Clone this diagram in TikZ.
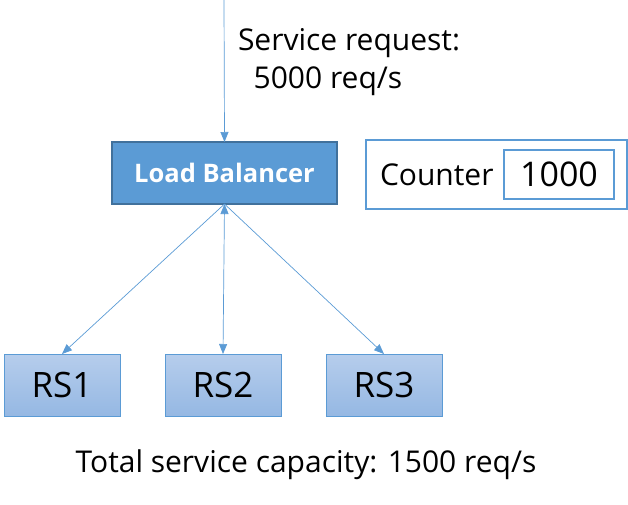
\documentclass[tikz,border=0pt]{standalone}
\usepackage{fontspec}
\setmainfont{Open Sans}
\usetikzlibrary{positioning, arrows.meta}

\definecolor{lbblue}{HTML}{5B9BD5}
\definecolor{lbedge}{HTML}{41719C}
\definecolor{rstop}{HTML}{B6CDEC}
\definecolor{rsbot}{HTML}{95B8E3}

\tikzset{
  balancer/.style = {draw = lbedge, line width = 1.2pt, fill = lbblue,
    minimum width = 225pt, minimum height = 62pt, text = white,
    font = \bfseries\fontsize{25.5}{30}\selectfont},
  server/.style = {draw = lbblue, line width = 0.8pt, top color = rstop,
    bottom color = rsbot, minimum width = 116pt, minimum height = 62pt,
    font = \fontsize{35}{40}\selectfont},
  frame/.style = {draw = lbblue, line width = 1.6pt},
  flow/.style = {color = lbblue, draw, line width = 0.7pt,
    -{Triangle[length = 10pt, width = 8pt]}},
  label/.style = {font = \fontsize{30}{38}\selectfont}
}

\begin{document}
\begin{tikzpicture}[x = 1pt, y = -1pt, inner sep = 0pt, outer sep = 0pt]
  \useasboundingbox (0, 0) rectangle (628, 505);
  \coordinate (in) at (224, 0);
  \node[balancer] (lb) at (224.5, 173) {Load Balancer};
  \node[server] (rs1) at (62, 385) {RS1};
  \node[server] (rs2) at (223, 385) {RS2};
  \node[server] (rs3) at (384, 385) {RS3};
  % counter
  \node[frame, minimum width = 261pt, minimum height = 69pt] (counter) at (496.5, 174.5) {};
  \node[frame, minimum width = 110pt, minimum height = 49pt,
    font = \fontsize{34}{38}\selectfont] (count) at (559, 174.5) {1000};
  \node[label, anchor = west] (ctext) at (380, 175) {Counter};
  % texts
  \node[label, anchor = north west, align = left]
    (req) at (238, 28) {Service request:\\\ \ 5000 req/s};
  \node[label] (total) at (306, 465)
    {Total service capacity: 1500 req/s};
  \path[flow]
    (in) edge (lb.north)
    (lb.south) edge (rs1.north)
    (lb.south) edge (rs2.north)
    (lb.south) edge (rs3.north);
\end{tikzpicture}
\end{document}
